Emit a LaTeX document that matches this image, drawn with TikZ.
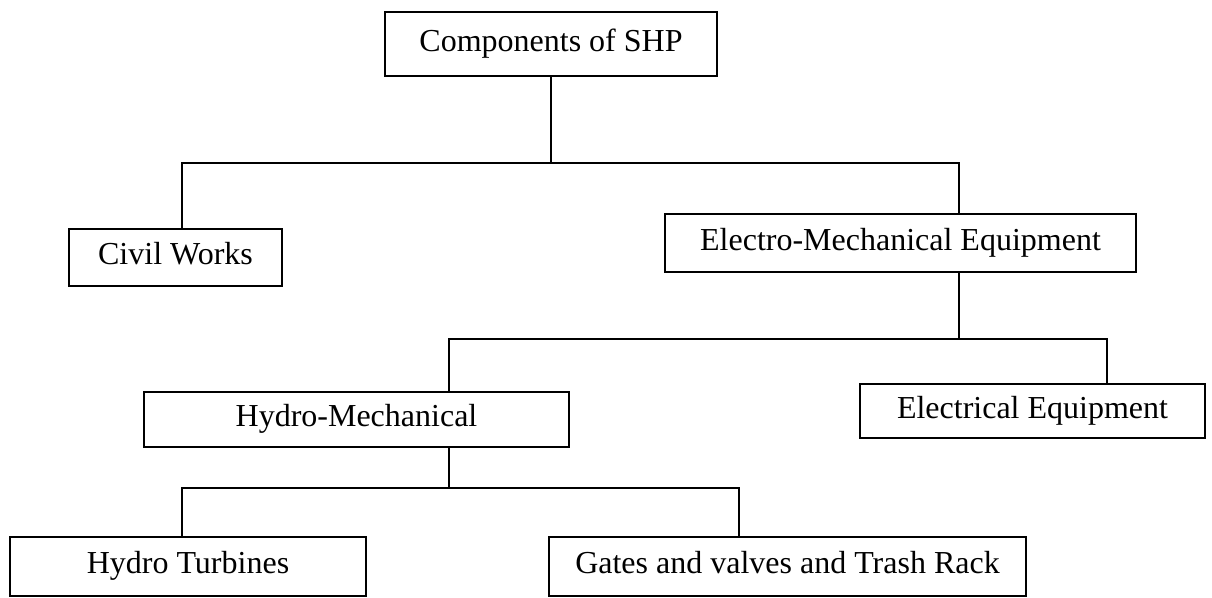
\documentclass[tikz,border=0pt]{standalone}
\usepackage{fontspec}
\setmainfont{Liberation Serif}
\usepackage{tikz}
\usetikzlibrary{arrows.meta}

\begin{document}
\begin{tikzpicture}[x=0.5pt,y=-0.5pt,line width=0.9pt,
  box/.style={draw, fill=white, inner sep=0pt, text height=11pt, text depth=3.5pt,
    font=\fontsize{16}{19}\selectfont}]
\useasboundingbox (0,0) rectangle (1212,598);

\node[box, minimum width=166pt, minimum height=32pt]   (shp)   at (551,44)      {Components of SHP};
\node[box, minimum width=106.5pt, minimum height=28.5pt] (civil) at (175.5,257.5) {Civil Works};
\node[box, minimum width=235.5pt, minimum height=29pt] (em)    at (900.5,243)   {Electro-Mechanical Equipment};
\node[box, minimum width=212.5pt, minimum height=27.5pt] (hm)  at (356.5,419.5) {Hydro-Mechanical};
\node[box, minimum width=172.5pt, minimum height=27pt] (elec)  at (1032.5,411)  {Electrical Equipment};
\node[box, minimum width=178pt, minimum height=29.5pt] (turb)  at (188,566.5)   {Hydro Turbines};
\node[box, minimum width=238.5pt, minimum height=29.5pt] (gates) at (787.5,566.5) {Gates and valves and Trash Rack};

% branch points
\coordinate (j1) at (182,163);
\coordinate (j2) at (959,163);
\coordinate (j3) at (449,339);
\coordinate (j4) at (1107,339);
\coordinate (j5) at (182,488);
\coordinate (j6) at (739,488);

\draw (shp.south) -- (shp.south |- j1);
\draw (j1 |- civil.north) -- (j1) -- (j2) -- (j2 |- em.north);
\draw (em.south -| j2) -- (j2 |- j3);
\draw (j3 |- hm.north) -- (j3) -- (j4) -- (j4 |- elec.north);
\draw (hm.south -| j3) -- (j3 |- j5);
\draw (j5 |- turb.north) -- (j5) -- (j6) -- (j6 |- gates.north);
\end{tikzpicture}
\end{document}
